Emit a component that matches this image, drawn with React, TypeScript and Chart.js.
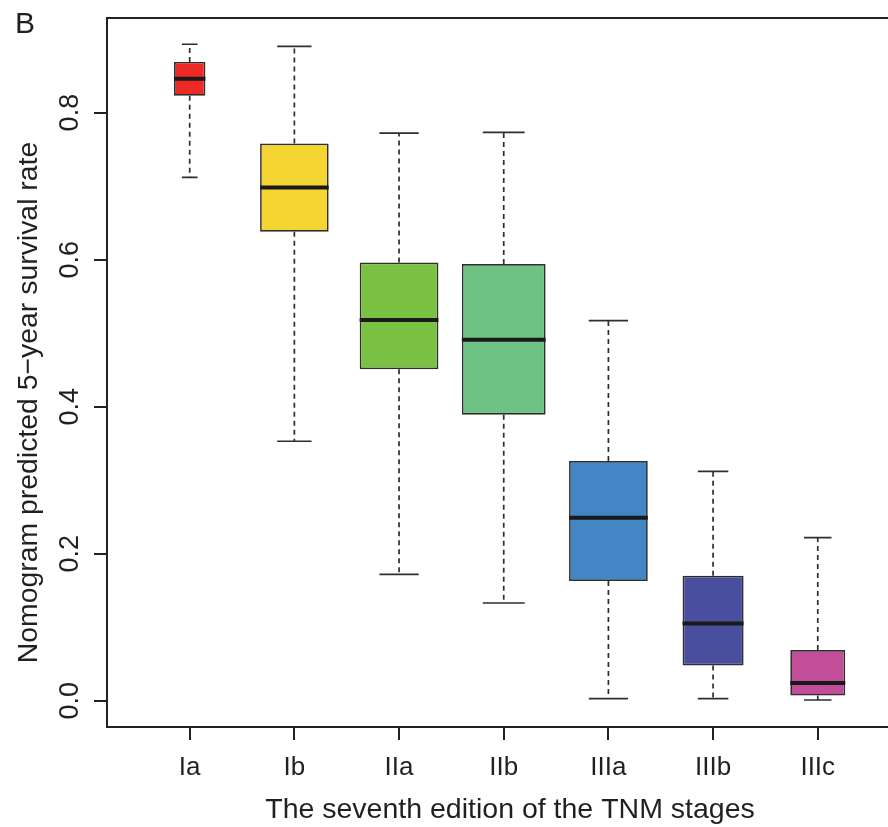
import React, { useEffect, useRef } from "react";
import { Chart, registerables } from "chart.js";

Chart.register(...registerables);

// ---- data ----
const STAGES = ["Ia", "Ib", "IIa", "IIb", "IIIa", "IIIb", "IIIc"];
const WHISKER_LOW = [0.712, 0.353, 0.172, 0.133, 0.003, 0.003, 0.001];
const Q1 = [0.823, 0.638, 0.451, 0.389, 0.163, 0.048, 0.007];
const MEDIAN = [0.846, 0.698, 0.518, 0.491, 0.249, 0.105, 0.024];
const Q3 = [0.869, 0.758, 0.596, 0.594, 0.326, 0.17, 0.069];
const WHISKER_HIGH = [0.893, 0.89, 0.772, 0.773, 0.517, 0.312, 0.222];
const Y_TICKS = [0, 0.2, 0.4, 0.6, 0.8];
const Y_TICK_LABELS = ["0.0", "0.2", "0.4", "0.6", "0.8"];

const X_TITLE = "The seventh edition of the TNM stages";
const Y_TITLE = "Nomogram predicted 5\u2212year survival rate";
const PANEL_LABEL = "B";

// ---- styles ----
const COLORS = ["#ED2A26", "#F4D532", "#7AC143", "#6EC284", "#4386C5", "#4A4E9F", "#C24D99"];
const BOX_WIDTH = [0.3, 0.655, 0.752, 0.8, 0.752, 0.583, 0.525]; // fraction of category spacing (varwidth)
const FONT = "'Liberation Sans', Arial, Helvetica, sans-serif";
const INK = "#231F20";
const AXIS = "#222222";

const boxPlugin = {
  id: "boxExtras",
  afterDatasetsDraw(chart: any) {
    const ctx = chart.ctx;
    const ys = chart.scales.y;
    ctx.save();
    STAGES.forEach((_, i) => {
      const bar = chart.getDatasetMeta(i).data[0];
      if (!bar) return;
      const { x: cx, width } = bar.getProps(["x", "width"], true);
      const half = width / 2;
      const yHigh = ys.getPixelForValue(WHISKER_HIGH[i]);
      const yLow = ys.getPixelForValue(WHISKER_LOW[i]);
      const yQ1 = ys.getPixelForValue(Q1[i]);
      const yQ3 = ys.getPixelForValue(Q3[i]);
      const yMed = ys.getPixelForValue(MEDIAN[i]);
      ctx.strokeStyle = "#2E2E2E";
      ctx.lineWidth = 1.7;
      // dashed whiskers
      ctx.setLineDash([5, 4]);
      ctx.beginPath();
      ctx.moveTo(cx, yQ3);
      ctx.lineTo(cx, yHigh);
      ctx.moveTo(cx, yQ1);
      ctx.lineTo(cx, yLow);
      ctx.stroke();
      // staples
      ctx.setLineDash([]);
      ctx.beginPath();
      ctx.moveTo(cx - half / 2, yHigh);
      ctx.lineTo(cx + half / 2, yHigh);
      ctx.moveTo(cx - half / 2, yLow);
      ctx.lineTo(cx + half / 2, yLow);
      ctx.stroke();
      // median
      ctx.strokeStyle = "#1A1A1A";
      ctx.lineWidth = 4;
      ctx.beginPath();
      ctx.moveTo(cx - half, yMed);
      ctx.lineTo(cx + half, yMed);
      ctx.stroke();
    });
    ctx.restore();
  },
  afterDraw(chart: any) {
    const ctx = chart.ctx;
    const xs = chart.scales.x;
    const ys = chart.scales.y;
    const area = chart.chartArea;
    ctx.save();
    // top frame line
    ctx.strokeStyle = AXIS;
    ctx.lineWidth = 2;
    ctx.beginPath();
    ctx.moveTo(area.left - 1, area.top);
    ctx.lineTo(area.right, area.top);
    ctx.stroke();

    ctx.fillStyle = INK;
    // x tick labels
    ctx.font = `26px ${FONT}`;
    ctx.textAlign = "center";
    ctx.textBaseline = "alphabetic";
    STAGES.forEach((s, i) => {
      ctx.fillText(s, xs.getPixelForValue(i + 1), 775);
    });
    // y tick labels (rotated, R style)
    Y_TICKS.forEach((v, i) => {
      ctx.save();
      ctx.translate(78, ys.getPixelForValue(v));
      ctx.rotate(-Math.PI / 2);
      ctx.textAlign = "center";
      ctx.textBaseline = "alphabetic";
      ctx.font = `27px ${FONT}`;
      ctx.fillText(Y_TICK_LABELS[i], 0, 0);
      ctx.restore();
    });
    // x title
    ctx.font = `28.5px ${FONT}`;
    ctx.textAlign = "center";
    ctx.fillText(X_TITLE, 510, 818);
    // y title
    ctx.save();
    ctx.translate(36.5, 402.5);
    ctx.rotate(-Math.PI / 2);
    ctx.textAlign = "center";
    ctx.font = `28.4px ${FONT}`;
    ctx.fillText(Y_TITLE, 0, 0);
    ctx.restore();
    // panel label
    ctx.font = `30px ${FONT}`;
    ctx.textAlign = "left";
    ctx.fillText(PANEL_LABEL, 15, 33.3);
    ctx.restore();
  },
};

export default function App() {
  const ref = useRef<HTMLCanvasElement | null>(null);

  useEffect(() => {
    if (!ref.current) return;
    const datasets = STAGES.map((s, i) => ({
      label: s,
      data: [{ x: i + 1, y: [Q1[i], Q3[i]] }],
      backgroundColor: COLORS[i],
      borderColor: "#2E2E2E",
      borderWidth: 1.7,
      borderSkipped: false,
      grouped: false,
      categoryPercentage: 1,
      barPercentage: BOX_WIDTH[i],
    }));
    const chart = new Chart(ref.current, {
      type: "bar",
      data: { datasets } as any,
      plugins: [boxPlugin],
      options: {
        animation: false,
        responsive: false,
        devicePixelRatio: 1,
        layout: { padding: { left: 0, right: 0, top: 18, bottom: 0 } },
        plugins: {
          legend: { display: false },
          tooltip: { enabled: false },
          title: { display: false },
        },
        scales: {
          x: {
            type: "linear",
            min: 0.21,
            max: 7.671,
            offset: false,
            afterBuildTicks: (scale: any) => {
              scale.ticks = STAGES.map((_, i) => ({ value: i + 1 }));
            },
            afterFit: (scale: any) => {
              scale.height = 100;
            },
            ticks: { display: false },
            grid: {
              display: true,
              offset: false,
              drawOnChartArea: false,
              drawTicks: true,
              tickLength: 13,
              color: AXIS,
              lineWidth: 2,
            },
            border: { display: true, color: AXIS, width: 2 },
          },
          y: {
            type: "linear",
            min: -0.0357,
            max: 0.9287,
            afterBuildTicks: (scale: any) => {
              scale.ticks = Y_TICKS.map((v) => ({ value: v }));
            },
            afterFit: (scale: any) => {
              scale.width = 107;
            },
            ticks: { display: false },
            grid: {
              display: true,
              drawOnChartArea: false,
              drawTicks: true,
              tickLength: 13,
              color: AXIS,
              lineWidth: 2,
            },
            border: { display: true, color: AXIS, width: 2 },
          },
        },
      } as any,
    });
    return () => chart.destroy();
  }, []);

  return (
    <div style={{ position: "absolute", left: 0, top: 0, width: 888, height: 827, background: "#fff" }}>
      <canvas ref={ref} width={888} height={827} style={{ display: "block" }} />
    </div>
  );
}
